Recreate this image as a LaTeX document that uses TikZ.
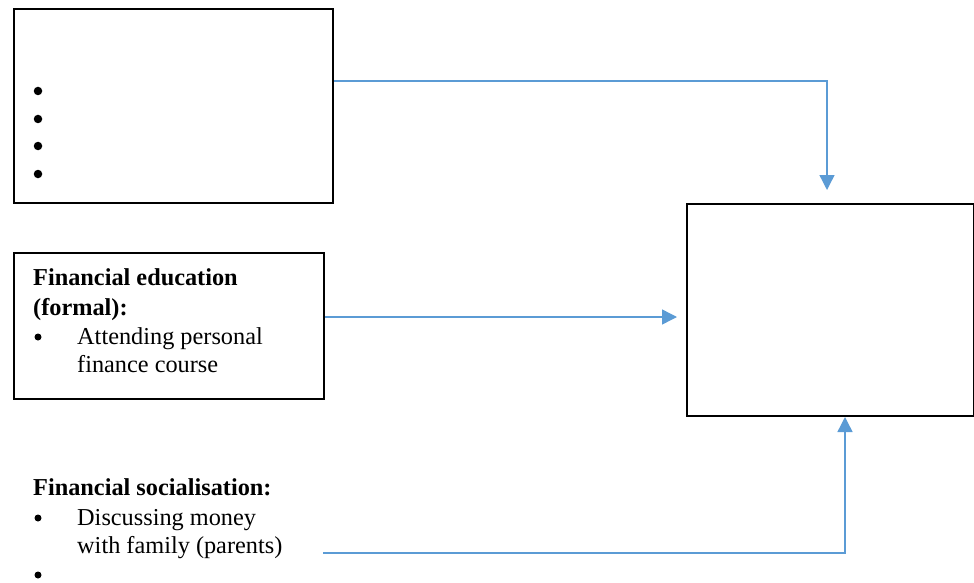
\documentclass[tikz,border=0pt]{standalone}
\usepackage{fontspec}
\setmainfont{Liberation Serif}
\usetikzlibrary{arrows.meta}
\definecolor{conncol}{HTML}{5B9BD5}
\tikzset{
  box/.style={draw=black, line width=2pt, fill=none, anchor=north west, inner sep=0pt},
  conn/.style={draw=conncol, line width=1.4pt, -{Triangle[length=15pt,width=15pt]}},
  txt/.style={anchor=base west, inner sep=0pt, font=\fontsize{24.3pt}{28pt}\selectfont},
  hd/.style={txt, font=\fontsize{24.3pt}{28pt}\selectfont\bfseries},
  bul/.style={circle, fill=black, inner sep=0pt, minimum size=8.5pt}
}
\begin{document}
\begin{tikzpicture}[x=1pt,y=-1pt]
\useasboundingbox (0,0) rectangle (974,583);
% boxes
\node[box, minimum width=319pt, minimum height=194pt] (b1) at (13,8) {};
\node[box, minimum width=310pt, minimum height=146pt] (b2) at (13,252) {};
\node[box, minimum width=287pt, minimum height=212pt] (b3) at (686,203) {};
% box 1 bullets
\node[bul] (b1p1) at (38,91) {};
\node[bul] (b1p2) at (38,119) {};
\node[bul] (b1p3) at (38,146) {};
\node[bul] (b1p4) at (38,174) {};
% box 2 text
\node[hd] (h2a) at (33,285) {Financial education};
\node[hd] (h2b) at (33,315) {(formal):};
\node[bul, minimum size=7pt] (p2) at (38,337) {};
\node[txt] (t2a) at (77,344) {Attending personal};
\node[txt] (t2b) at (77,372) {finance course};
% bottom text
\node[hd] (h3) at (33,495) {Financial socialisation:};
\node[bul, minimum size=7pt] (p3a) at (38,518) {};
\node[txt] (t3a) at (77,525) {Discussing money};
\node[txt] (t3b) at (77,553) {with family (parents)};
\node[bul, minimum size=7pt] (p3b) at (38,575) {};
% connectors
\coordinate (r1) at (0,81);
\coordinate (e1) at (827,190);
\draw[conn] (b1.east |- r1) -| (e1);
\coordinate (r2) at (0,317);
\coordinate (e2) at (677,317);
\draw[conn] (b2.east |- r2) -- (e2);
\coordinate (s3) at (323,553);
\coordinate (x3) at (845,0);
\draw[conn] (s3) -| (b3.south -| x3);
\end{tikzpicture}
\end{document}
